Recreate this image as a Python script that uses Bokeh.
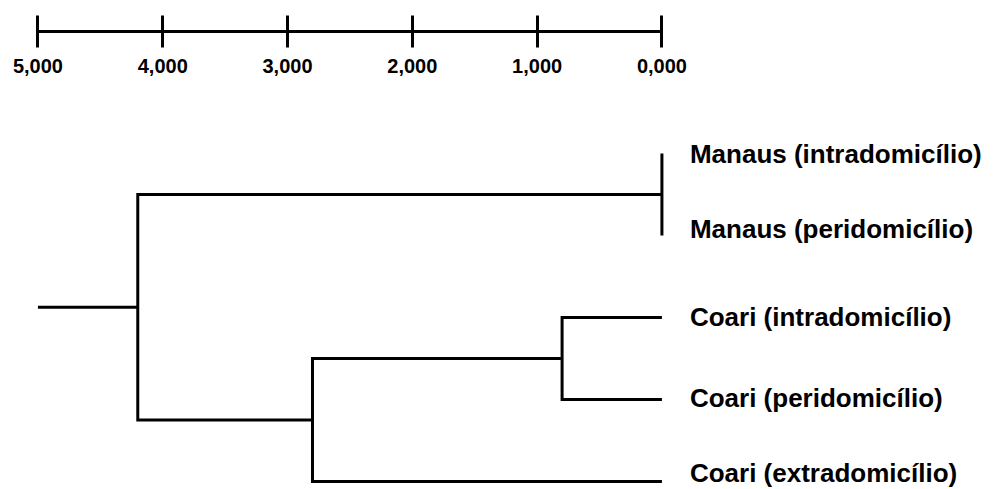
from bokeh.plotting import figure
from bokeh.models import Range1d, LinearAxis, FixedTicker, ColumnDataSource
from bokeh.core.properties import value
from bokeh.embed import file_html
from bokeh.resources import INLINE

# Leaves (top to bottom)
leaf_labels = ["Manaus (intradomicílio)", "Manaus (peridomicílio)",
               "Coari (intradomicílio)", "Coari (peridomicílio)",
               "Coari (extradomicílio)"]
# Linkage: (child_a, child_b, distance); new node ids start at 5
merge_a = [0, 2, 6, 5]
merge_b = [1, 3, 4, 7]
merge_h = [0.0, 0.8, 2.8, 4.2]
root_stem_end = 5.0

tick_values = [5, 4, 3, 2, 1, 0]
tick_labels = ["5,000", "4,000", "3,000", "2,000", "1,000", "0,000"]

# Build dendrogram paths
node_h = {i: 0.0 for i in range(len(leaf_labels))}
node_y = {i: float(i) for i in range(len(leaf_labels))}
xs, ys = [], []
for k, (a, b, h) in enumerate(zip(merge_a, merge_b, merge_h)):
    nid = len(leaf_labels) + k
    xs.append([node_h[a], h, h, node_h[b]])
    ys.append([node_y[a], node_y[a], node_y[b], node_y[b]])
    node_h[nid] = h
    node_y[nid] = (node_y[a] + node_y[b]) / 2
root = len(leaf_labels) + len(merge_h) - 1
xs.append([node_h[root], root_stem_end])
ys.append([node_y[root], node_y[root]])

p = figure(width=996, height=489, output_backend="svg", toolbar_location=None,
           x_range=Range1d(5.30, -2.681), y_range=Range1d(4.0976, -1.8659),
           x_axis_type=None, y_axis_type=None, min_border=0,
           outline_line_color=None, background_fill_color="white",
           border_fill_color="white")
p.xgrid.visible = False
p.ygrid.visible = False

p.multi_line(xs=xs, ys=ys, line_color="black", line_width=3, line_join="miter")

label_src = ColumnDataSource(dict(
    x=[0.0] * len(leaf_labels),
    y=[float(i) for i in range(len(leaf_labels))],
    text=leaf_labels,
    dy=[0, -7, 0, -1, -8],
))
p.text(x="x", y="y", text="text", source=label_src,
       x_offset=28, y_offset="dy", text_baseline="middle", text_align="left",
       text_font=value("Liberation Sans"), text_font_style="bold",
       text_font_size="26px", text_color="black")

ax = LinearAxis(ticker=FixedTicker(ticks=tick_values), fixed_location=-1.488,
                bounds=(0, 5),
                major_label_overrides={v: l for v, l in zip(tick_values, tick_labels)})
ax.axis_line_width = 3
ax.axis_line_color = "black"
ax.major_tick_line_width = 3
ax.major_tick_line_color = "black"
ax.major_tick_in = 16
ax.major_tick_out = 16
ax.minor_tick_line_color = None
ax.major_label_standoff = 12
ax.major_label_text_font = "Liberation Sans"
ax.major_label_text_font_style = "bold"
ax.major_label_text_font_size = "20px"
ax.major_label_text_color = "black"
p.add_layout(ax, "below")

open("out.html", "w").write(file_html(p, INLINE))
